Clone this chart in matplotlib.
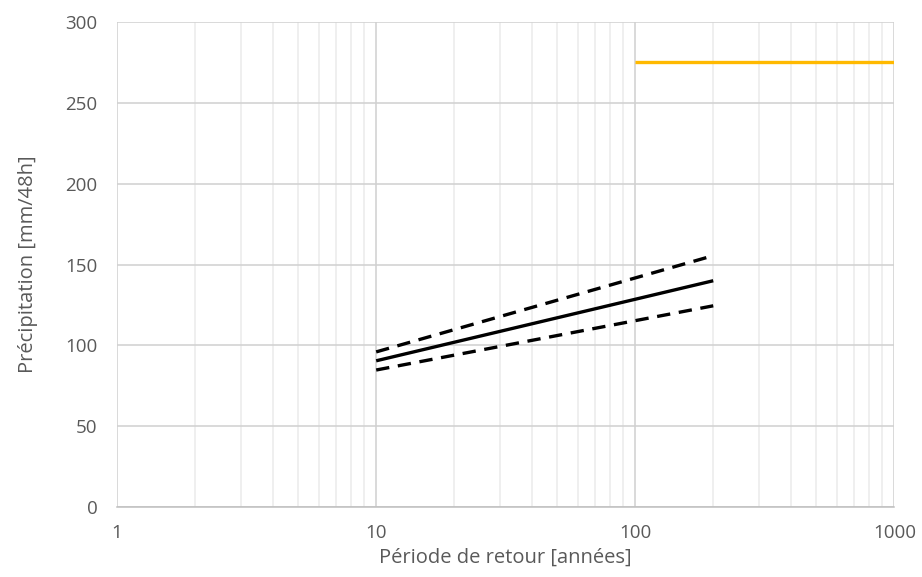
import matplotlib.pyplot as plt
from matplotlib.ticker import FixedLocator, NullFormatter

# return periods (years) and precipitation (mm/48h)
periods = [10, 200]
central = [90.5, 140.0]
upper = [96.0, 155.5]
lower = [84.8, 124.5]

extreme_periods = [100, 1000]
extreme_value = [275, 275]

x_ticks = [1, 10, 100, 1000]
x_labels = ['1', '10', '100', '1000']
y_ticks = [0, 50, 100, 150, 200, 250, 300]

plt.rcParams['font.family'] = ['Open Sans', 'DejaVu Sans']
text_color = '#595959'

fig = plt.figure(figsize=(9.22, 5.77), dpi=100)
ax = fig.add_axes([0.127, 0.121, 0.843, 0.841])

ax.set_xscale('log')
ax.set_xlim(1, 1000)
ax.set_ylim(0, 300)

ax.plot(periods, central, color='black', lw=2.4, solid_capstyle='butt')
ax.plot(periods, upper, color='black', lw=2.4, dashes=(4, 2.6))
ax.plot(periods, lower, color='black', lw=2.4, dashes=(4, 2.6))
ax.plot(extreme_periods, extreme_value, color='#FFB900', lw=2.4, solid_capstyle='butt')

ax.xaxis.set_major_locator(FixedLocator(x_ticks))
ax.set_xticklabels(x_labels)
minor = [m * d for d in (1, 10, 100) for m in range(2, 10)]
ax.xaxis.set_minor_locator(FixedLocator(minor))
ax.xaxis.set_minor_formatter(NullFormatter())
ax.set_yticks(y_ticks)

ax.grid(True, which='major', color='#D0D0D0', lw=1.1)
ax.grid(True, which='minor', axis='x', color='#EBEBEB', lw=1.1)
ax.set_axisbelow(True)

for side in ['top', 'right', 'left']:
    ax.spines[side].set_visible(False)
ax.spines['bottom'].set_color('#BFBFBF')
ax.spines['bottom'].set_linewidth(1.1)

ax.tick_params(which='both', length=0, colors=text_color, labelsize=13.5)
ax.tick_params(axis='x', pad=12)
ax.tick_params(axis='y', pad=14)

ax.set_xlabel('Période de retour [années]', color=text_color, fontsize=14.5, labelpad=4)
ax.set_ylabel('Précipitation [mm/48h]', color=text_color, fontsize=14.5, labelpad=20)

fig.savefig('out.png', dpi=100)
